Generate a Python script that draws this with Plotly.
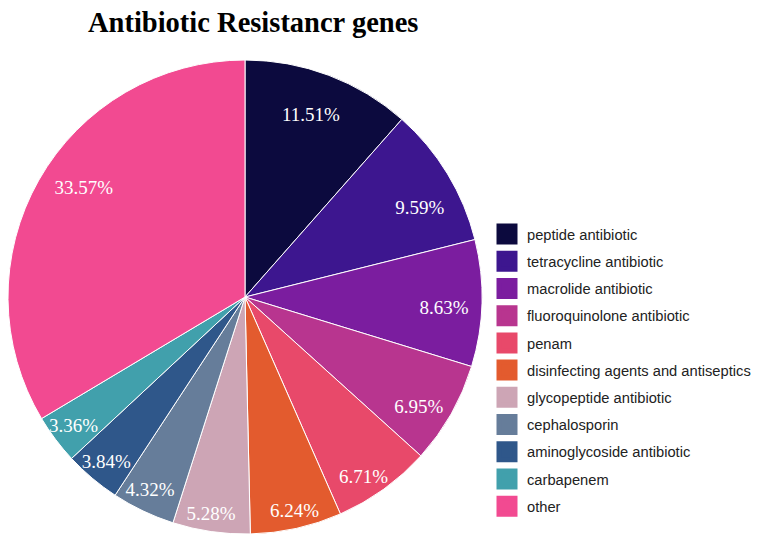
import plotly.graph_objects as go

labels = ["peptide antibiotic", "tetracycline antibiotic", "macrolide antibiotic",
          "fluoroquinolone antibiotic", "penam", "disinfecting agents and antiseptics",
          "glycopeptide antibiotic", "cephalosporin", "aminoglycoside antibiotic",
          "carbapenem", "other"]
counts = [48, 40, 36, 29, 28, 26, 22, 18, 16, 14, 140]
colors = ["#0c0a3e", "#3d168f", "#7b1d9f", "#b8358f", "#e8496a", "#e35b2e",
          "#cda5b5", "#667d9a", "#2f578a", "#41a0ac", "#f24a91"]

# placement of each percentage label: fraction of radius and angular nudge (deg)
label_radius = [0.817, 0.828, 0.841, 0.867, 0.907, 0.923, 0.923, 0.907, 0.907, 0.905, 0.823]
label_nudge = [-0.8, 4.3, 1.4, 2.6, 2.3, -0.6, 0.7, 0.7, 0.0, 0.0, 4.7]

W, H = 757, 543
ml, mr, mt, mb = 0, 0, 60, 9
pw = W - ml - mr
dom = dict(x=[8 / pw, 482 / pw], y=[0, 1])

fig = go.Figure()
# filled pie
fig.add_trace(go.Pie(
    labels=labels, values=counts, sort=False, direction="clockwise", rotation=0,
    marker=dict(colors=colors, line=dict(color="white", width=1)),
    textinfo="none", domain=dom, showlegend=False, hoverinfo="label+percent",
))
# transparent rings carrying the percentage labels near the rim
for i, (rc, nd) in enumerate(zip(label_radius, label_nudge)):
    tt = ["%{percent:.2%}" if j == i else "" for j in range(len(labels))]
    fig.add_trace(go.Pie(
        labels=labels, values=counts, sort=False, direction="clockwise", rotation=nd,
        hole=2 * rc - 1,
        marker=dict(colors=["rgba(0,0,0,0)"] * len(labels), line=dict(width=0)),
        texttemplate=tt, textposition="inside",
        insidetextorientation="horizontal",
        textfont=dict(family="Liberation Serif", size=19, color="white"),
        domain=dom, showlegend=False, hoverinfo="skip",
    ))

for i, (lab, col) in enumerate(zip(labels, colors)):
    fig.add_trace(go.Scatter(
        x=[None], y=[None], mode="markers", name=lab, legendgroup=f"g{i}",
        marker=dict(symbol="square", size=16, color=col, line=dict(color=col, width=5)),
        hoverinfo="skip",
    ))

fig.update_layout(
    width=W, height=H,
    margin=dict(l=ml, r=mr, t=mt, b=mb),
    paper_bgcolor="white", plot_bgcolor="white",
    uniformtext=dict(minsize=19, mode="show"),
    title=dict(text="<b>Antibiotic Resistancr genes</b>",
               font=dict(family="Liberation Serif", size=28.5, color="black"),
               x=88 / W, xanchor="left", xref="paper",
               y=1 - 22 / H, yanchor="middle", yref="container"),
    xaxis=dict(visible=False), yaxis=dict(visible=False),
    legend=dict(x=487 / pw, xanchor="left", y=1 - (218 - mt) / (H - mt - mb), yanchor="top",
                font=dict(family="Liberation Sans", size=14.7, color="#222"),
                tracegroupgap=5.1, bgcolor="rgba(0,0,0,0)"),
)

fig.write_html("out.html")
